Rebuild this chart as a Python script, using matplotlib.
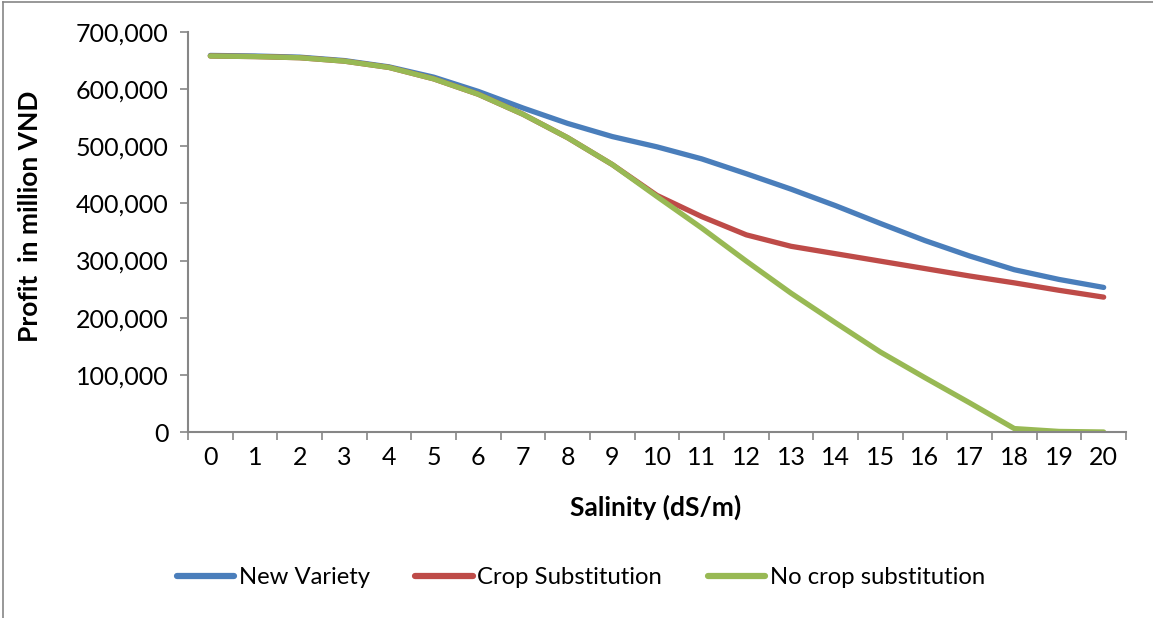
import numpy as np
import matplotlib
matplotlib.use('Agg')
from matplotlib import pyplot as plt
from matplotlib.ticker import FuncFormatter
from matplotlib.lines import Line2D

salinity = list(range(21))
new_variety = [659000, 658000, 656000, 650000, 639000, 621000, 596000, 567000, 540000, 517000,
               499000, 478000, 452000, 425000, 396000, 365000, 335000, 308000, 284000, 267000, 253000]
crop_subst = [658000, 657000, 655000, 649000, 638000, 618000, 591000, 556000, 515000, 468000,
              414000, 377000, 345000, 325000, 312000, 299000, 286000, 273000, 261000, 248000, 236000]
no_subst = [658000, 657000, 655000, 649000, 638000, 618000, 591000, 556000, 515000, 468000,
            412000, 357000, 299000, 243000, 191000, 140000, 95000, 51000, 6000, 1000, 0]

names = ['New Variety', 'Crop Substitution', 'No crop substitution']
colors = ['#4A7EBB', '#BE4B48', '#98B954']

plt.rcParams['font.family'] = ['Lato', 'DejaVu Sans']
axis_grey = '#868686'
fs = 18

fig = plt.figure(figsize=(11.53, 6.18), dpi=100)
ax = fig.add_axes([188/1153, 1-432/618, 938/1153, 400/618])

for ys, c, n in zip([new_variety, crop_subst, no_subst], colors, names):
    ax.plot(salinity, ys, color=c, lw=3.8, solid_capstyle='round', solid_joinstyle='round', label=n)

ax.set_xlim(-0.5, 20.5)
ax.set_ylim(0, 700000)
ax.set_yticks(np.arange(0, 700001, 100000))
ax.yaxis.set_major_formatter(FuncFormatter(lambda v, p: f'{int(v):,}'))
ax.set_xticks(np.arange(-0.5, 21, 1))
ax.set_xticklabels([])
ax.set_xticks(salinity, minor=True)
ax.set_xticklabels([str(s) for s in salinity], minor=True)
ax.tick_params(axis='x', which='major', length=6, width=1.2, color=axis_grey, direction='out')
ax.tick_params(axis='x', which='minor', length=0, labelsize=fs, pad=10)
ax.tick_params(axis='y', length=6, width=1.2, color=axis_grey, labelsize=fs, pad=8)

for s in ['top', 'right']:
    ax.spines[s].set_visible(False)
for s in ['left', 'bottom']:
    ax.spines[s].set_color(axis_grey)
    ax.spines[s].set_linewidth(1.5)

ax.set_ylabel('Profit  in million VND', fontsize=19, fontweight='bold')
ax.yaxis.label.set_va('center')
ax.yaxis.label.set_ha('center')
ax.yaxis.set_label_coords((30-188)/938, (432-216)/400)
ax.set_xlabel('Salinity (dS/m)', fontsize=19, fontweight='bold')
ax.xaxis.label.set_va('center')
ax.xaxis.set_label_coords((656-188)/938, -(507-432)/400)

leg = fig.legend(loc='center', bbox_to_anchor=(581/1153, 1-578/618), ncol=3, frameon=False,
                 fontsize=17.2, handlelength=2.4, handletextpad=0.2, columnspacing=1.9)
for h in leg.get_lines():
    h.set_linewidth(4.5)

# chart area border (left and top only visible)
fig.add_artist(Line2D([3/1153, 3/1153], [0, 1-2/618], color=axis_grey, lw=1.2, transform=fig.transFigure))
fig.add_artist(Line2D([3/1153, 1], [1-2/618, 1-2/618], color=axis_grey, lw=1.2, transform=fig.transFigure))

fig.savefig('out.png', dpi=100)
